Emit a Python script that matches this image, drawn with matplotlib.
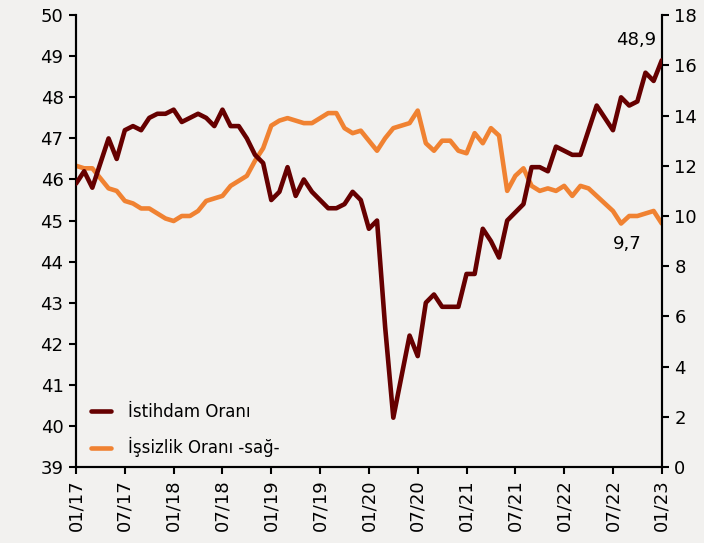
import numpy as np
import matplotlib.pyplot as plt
import matplotlib.ticker as mticker

# Monthly data 01/17 - 01/23
istihdam = [45.9, 46.2, 45.8, 46.4, 47.0, 46.5, 47.2, 47.3, 47.2, 47.5,
            47.6, 47.6, 47.7, 47.4, 47.5, 47.6, 47.5, 47.3, 47.7, 47.3,
            47.3, 47.0, 46.6, 46.4, 45.5, 45.7, 46.3, 45.6, 46.0, 45.7,
            45.5, 45.3, 45.3, 45.4, 45.7, 45.5, 44.8, 45.0, 42.4, 40.2,
            41.2, 42.2, 41.7, 43.0, 43.2, 42.9, 42.9, 42.9, 43.7, 43.7,
            44.8, 44.5, 44.1, 45.0, 45.2, 45.4, 46.3, 46.3, 46.2, 46.8,
            46.7, 46.6, 46.6, 47.2, 47.8, 47.5, 47.2, 48.0, 47.8, 47.9,
            48.6, 48.4, 48.9]
issizlik = [12.0, 11.9, 11.9, 11.5, 11.1, 11.0, 10.6, 10.5, 10.3, 10.3,
            10.1, 9.9, 9.8, 10.0, 10.0, 10.2, 10.6, 10.7, 10.8, 11.2,
            11.4, 11.6, 12.2, 12.7, 13.6, 13.8, 13.9, 13.8, 13.7, 13.7,
            13.9, 14.1, 14.1, 13.5, 13.3, 13.4, 13.0, 12.6, 13.1, 13.5,
            13.6, 13.7, 14.2, 12.9, 12.6, 13.0, 13.0, 12.6, 12.5, 13.3,
            12.9, 13.5, 13.2, 11.0, 11.6, 11.9, 11.2, 11.0, 11.1, 11.0,
            11.2, 10.8, 11.2, 11.1, 10.8, 10.5, 10.2, 9.7, 10.0, 10.0,
            10.1, 10.2, 9.7]
tick_labels = ['01/17', '07/17', '01/18', '07/18', '01/19', '07/19', '01/20',
               '07/20', '01/21', '07/21', '01/22', '07/22', '01/23']

bg = '#f2f1ef'
c_ist = '#660000'
c_iss = '#f08232'

months = np.arange(len(istihdam))

fig = plt.figure(figsize=(7.04, 5.43), dpi=100, facecolor=bg)
ax = fig.add_axes([0.108, 0.140, 0.832, 0.832], facecolor=bg)
ax2 = ax.twinx()

ax2.plot(months, issizlik, color=c_iss, lw=3.3, solid_capstyle='round',
         label='İşsizlik Oranı -sağ-', zorder=2)
ax.plot(months, istihdam, color=c_ist, lw=3.3, solid_capstyle='round',
        label='İstihdam Oranı', zorder=3)
ax.set_zorder(ax2.get_zorder() + 1)
ax.patch.set_visible(False)

ax.set_xlim(0, 72)
ax.set_ylim(39, 50)
ax2.set_ylim(0, 18)
ax.yaxis.set_major_locator(mticker.MultipleLocator(1))
ax2.yaxis.set_major_locator(mticker.MultipleLocator(2))
ax.set_xticks(np.arange(0, 73, 6), labels=tick_labels, rotation=90)

for a in (ax, ax2):
    a.spines['top'].set_visible(False)
    for s in ('left', 'right', 'bottom'):
        a.spines[s].set_linewidth(1.5)
    a.tick_params(axis='both', direction='out', length=5, width=1.5,
                  labelsize=13, colors='black', pad=4)

# last value labels
ax.text(68.9, 49.4, '48,9', ha='center', va='center', fontsize=13)
ax2.text(67.7, 8.9, '9,7', ha='center', va='center', fontsize=13)

h1, l1 = ax.get_legend_handles_labels()
h2, l2 = ax2.get_legend_handles_labels()
ax.legend(h1 + h2, l1 + l2, loc='lower left', bbox_to_anchor=(0.0, -0.012),
          frameon=False, fontsize=12, handlelength=1.2, handletextpad=1.0,
          labelspacing=1.0)

fig.savefig('out.png', dpi=100, facecolor=bg)
